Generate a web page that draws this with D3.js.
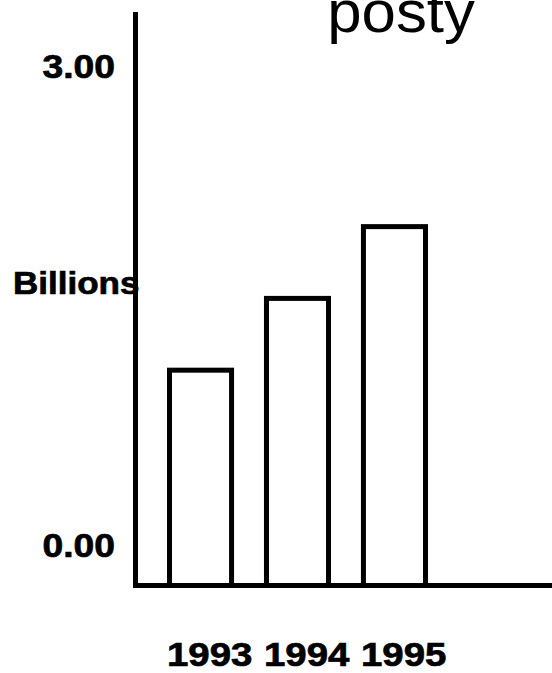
<!DOCTYPE html>
<html>
<head>
<meta charset="utf-8">
<script src="https://cdn.jsdelivr.net/npm/d3@7"></script>
<style>
  html, body { margin: 0; padding: 0; background: #fff; }
  svg { display: block; }
  text { font-family: "Liberation Sans", Arial, Helvetica, sans-serif; fill: #000; }
  text.heavy { stroke: #000; stroke-width: 0.7px; }
</style>
</head>
<body>
<svg id="chart" width="552" height="673"></svg>
<script>
// Annual values, in billions
const years = ["1993", "1994", "1995"];
const values = [1.35, 1.80, 2.25];
const tickValues = [0, 3];
const tickLabels = ["0.00", "3.00"];
const axisTitle = "Billions";
const chartTitle = "posty";

const svg = d3.select("#chart");
const W = 552, H = 673;
const baseY = 585.5;      // x-axis line
const axisX = 135.5;      // y-axis line
const stretch = 1.13;     // wide lettering

const y = d3.scaleLinear().domain([0, 3]).range([baseY, 107]);
const x = d3.scaleBand().domain(years).range([169.5, 425.5]).paddingInner(0.36).paddingOuter(0);

// helper: horizontally widened text anchored at (px, py)
function wideText(sel, px, py, str, size, weight, anchor, sx, cls) {
  return sel.append("text")
    .attr("class", cls || null)
    .attr("transform", `translate(${px},${py}) scale(${sx},1)`)
    .attr("text-anchor", anchor)
    .style("font-size", size + "px")
    .style("font-weight", weight)
    .text(str);
}

// title (partially off the top edge)
wideText(svg, 401, 32, chartTitle, 60, "normal", "middle", 1.03);

// bars
svg.append("g").selectAll("rect")
  .data(values)
  .join("rect")
  .attr("x", (d, i) => x(years[i]))
  .attr("y", d => y(d))
  .attr("width", x.bandwidth())
  .attr("height", d => baseY - y(d))
  .attr("fill", "#fff")
  .attr("stroke", "#000")
  .attr("stroke-width", 5);

// axes lines
svg.append("line")
  .attr("x1", axisX).attr("x2", axisX)
  .attr("y1", 12).attr("y2", baseY + 2.5)
  .attr("stroke", "#000").attr("stroke-width", 5);
svg.append("line")
  .attr("x1", axisX - 2.5).attr("x2", W)
  .attr("y1", baseY).attr("y2", baseY)
  .attr("stroke", "#000").attr("stroke-width", 5);

// y tick labels, set above their tick positions
tickValues.forEach((v, i) => {
  wideText(svg, 115, y(v) - 29, tickLabels[i], 33, "bold", "end", stretch, "heavy");
});

// y axis title
wideText(svg, 13, 294, axisTitle, 31, "bold", "start", stretch, "heavy");

// category labels
years.forEach(yr => {
  wideText(svg, x(yr) - 2.5, 666, yr, 34, "bold", "start", stretch, "heavy");
});
</script>
</body>
</html>
